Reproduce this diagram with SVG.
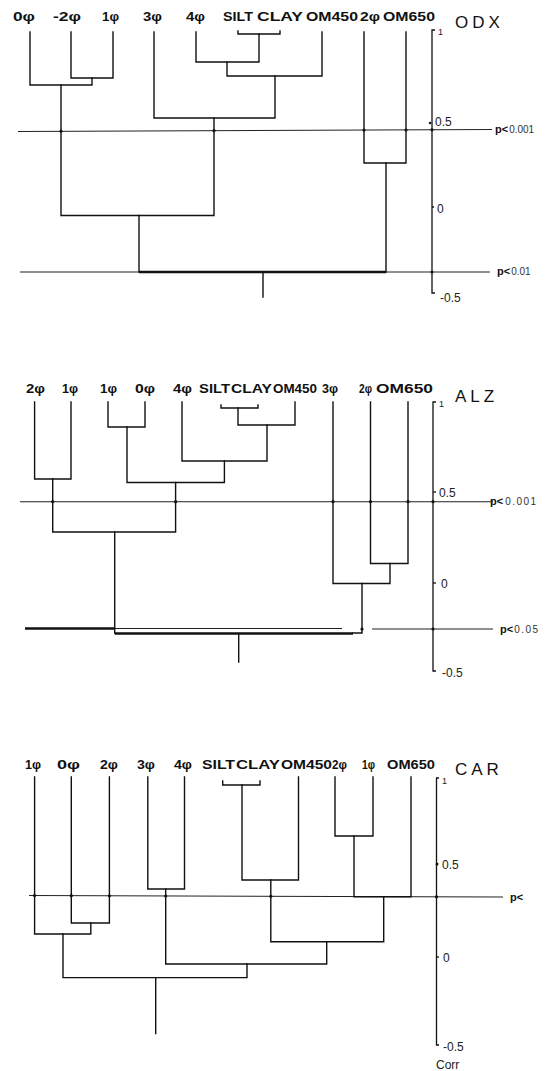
<svg xmlns="http://www.w3.org/2000/svg" width="559" height="1071" viewBox="0 0 559 1071">
<style>
.t{fill:none;stroke:#111;stroke-width:1.4;stroke-linecap:square}
.tk{fill:none;stroke:#111;stroke-width:2.4}
.pl{fill:none;stroke:#222;stroke-width:1.1}
.ax{fill:none;stroke:#111;stroke-width:1.3}
.d{fill:#111}
.lab{font-family:"Liberation Sans",Arial,sans-serif;font-weight:bold;font-size:13.5px;fill:#111}
.ttl{font-family:"Liberation Sans",Arial,sans-serif;font-size:17px;letter-spacing:4px;fill:#111}
.tick{font-family:"Liberation Sans",Arial,sans-serif;font-size:12px;fill:#222}
.one{font-family:"Liberation Sans",Arial,sans-serif;font-size:9px;fill:#222}
.pb{font-family:"Liberation Sans",Arial,sans-serif;font-weight:bold;font-size:11px;fill:#111}
.pn{font-family:"Liberation Sans",Arial,sans-serif;font-weight:normal;font-size:10px;fill:#333}
</style>
<rect width="559" height="1071" fill="#fff"/>

<!-- ===== ODX panel ===== -->
<g id="odx">
  <g id="odx-title"><text class="ttl" x="455" y="28">ODX</text></g>
  <g id="odx-l0"><text class="lab" x="13" y="21" textLength="22" lengthAdjust="spacingAndGlyphs">0φ</text></g>
  <g id="odx-lm2"><text class="lab" x="53" y="21" textLength="28" lengthAdjust="spacingAndGlyphs">-2φ</text></g>
  <g id="odx-l1"><text class="lab" x="102" y="21" textLength="17" lengthAdjust="spacingAndGlyphs">1φ</text></g>
  <g id="odx-l3"><text class="lab" x="143" y="21" textLength="19" lengthAdjust="spacingAndGlyphs">3φ</text></g>
  <g id="odx-l4"><text class="lab" x="186" y="21" textLength="19" lengthAdjust="spacingAndGlyphs">4φ</text></g>
  <g id="odx-silt"><text class="lab" x="223" y="21" textLength="30" lengthAdjust="spacingAndGlyphs">SILT</text></g>
  <g id="odx-clay"><text class="lab" x="257" y="21" textLength="46" lengthAdjust="spacingAndGlyphs">CLAY</text></g>
  <g id="odx-om450"><text class="lab" x="306" y="21" textLength="52" lengthAdjust="spacingAndGlyphs">OM450</text></g>
  <g id="odx-l2"><text class="lab" x="360" y="21" textLength="20" lengthAdjust="spacingAndGlyphs">2φ</text></g>
  <g id="odx-om650"><text class="lab" x="383" y="21" textLength="52" lengthAdjust="spacingAndGlyphs">OM650</text></g>
  <g id="odx-axis">
    <path class="ax" d="M435,30 H432 V293 H435"/>
    <text class="one" x="438" y="35">1</text>
    <circle class="d" cx="430" cy="123" r="1.2"/>
    <text class="tick" x="435" y="126">0.5</text>
    <path class="ax" d="M432,207 H434"/>
    <text class="tick" x="437" y="213">0</text>
    <text class="tick" x="440" y="302">-0.5</text>
  </g>
  <g id="odx-sig">
    <text x="495" y="133"><tspan class="pb">p&lt;</tspan><tspan class="pn" dx="1">0.001</tspan></text>
    <text x="497" y="275"><tspan class="pb">p&lt;</tspan><tspan class="pn" dx="1">0.01</tspan></text>
  </g>
</g>
<g id="odx-connectors">
  <path class="pl" d="M18,131.5 L492,129.5"/>
  <path class="pl" d="M20,272 H490"/>
  <path class="t" d="M71,32 V78 H113 V32"/>
  <path class="t" d="M30,32 V85 H92 V78"/>
  <path class="t" d="M238,31 V34 H280 V31"/>
  <path class="t" d="M196,32 V62 H259 V34"/>
  <path class="t" d="M227,62 V76 H322 V32"/>
  <path class="t" d="M154,32 V118 H275 V76"/>
  <path class="t" d="M61,85 V215.5 H214 V118"/>
  <path class="t" d="M364,32 V163 H406 V32"/>
  <path class="t" d="M139,215.5 V272 M386,272 V163"/>
  <path class="tk" d="M139,272 H386"/>
  <path class="t" d="M263,272 V297"/>
  <circle class="d" cx="61" cy="131.2" r="1.6"/>
  <circle class="d" cx="214" cy="130.7" r="1.6"/>
  <circle class="d" cx="364" cy="130.1" r="1.6"/>
  <circle class="d" cx="406" cy="130" r="1.6"/>
  <circle class="d" cx="432" cy="129.8" r="1.6"/>
  <circle class="d" cx="432" cy="272" r="1.6"/>
</g>

<!-- ===== ALZ panel ===== -->
<g id="alz">
  <g id="alz-title"><text class="ttl" x="455" y="402">ALZ</text></g>
  <g id="alz-l2a"><text class="lab" x="26" y="393" textLength="19" lengthAdjust="spacingAndGlyphs">2φ</text></g>
  <g id="alz-l1a"><text class="lab" x="62" y="393" textLength="16" lengthAdjust="spacingAndGlyphs">1φ</text></g>
  <g id="alz-l1b"><text class="lab" x="100" y="393" textLength="17" lengthAdjust="spacingAndGlyphs">1φ</text></g>
  <g id="alz-l0"><text class="lab" x="135" y="393" textLength="20" lengthAdjust="spacingAndGlyphs">0φ</text></g>
  <g id="alz-l4"><text class="lab" x="173" y="393" textLength="19" lengthAdjust="spacingAndGlyphs">4φ</text></g>
  <g id="alz-silt"><text class="lab" x="199" y="393" textLength="31" lengthAdjust="spacingAndGlyphs">SILT</text></g>
  <g id="alz-clay"><text class="lab" x="231" y="393" textLength="41" lengthAdjust="spacingAndGlyphs">CLAY</text></g>
  <g id="alz-om450"><text class="lab" x="273" y="393" textLength="44" lengthAdjust="spacingAndGlyphs">OM450</text></g>
  <g id="alz-l3"><text class="lab" x="322" y="393" textLength="16" lengthAdjust="spacingAndGlyphs">3φ</text></g>
  <g id="alz-l2b"><text class="lab" x="359" y="393" textLength="13" lengthAdjust="spacingAndGlyphs">2φ</text></g>
  <g id="alz-om650"><text class="lab" x="376" y="393" textLength="57" lengthAdjust="spacingAndGlyphs">OM650</text></g>
  <g id="alz-axis">
    <path class="ax" d="M436,402 H433 V671 H436"/>
    <text class="one" x="439" y="407">1</text>
    <path class="ax" d="M433,492 H436"/>
    <text class="tick" x="439" y="497">0.5</text>
    <path class="ax" d="M433,583 H436"/>
    <text class="tick" x="441" y="588">0</text>
    <text class="tick" x="442" y="677">-0.5</text>
  </g>
  <g id="alz-sig">
    <text x="490" y="505"><tspan class="pb">p&lt;</tspan><tspan class="pn" dx="2" letter-spacing="1.5">0.001</tspan></text>
    <text x="500" y="633"><tspan class="pb">p&lt;</tspan><tspan class="pn" dx="1" letter-spacing="1.5">0.05</tspan></text>
  </g>
</g>
<g id="alz-connectors">
  <path class="pl" d="M20,501.7 H493"/>
  <path class="pl" d="M25,628.5 H342 M372,629 H493"/>
  <path class="tk" d="M25,628.5 H115"/>
  <path class="t" d="M34.6,402 V479 H71 V402"/>
  <path class="t" d="M108,402 V427 H145 V402"/>
  <path class="t" d="M221,405 V408 H258 V405"/>
  <path class="t" d="M238,408 V425 H295 V402"/>
  <path class="t" d="M182,402 V461 H267 V425"/>
  <path class="t" d="M127,427 V482.5 H224.4 V461"/>
  <path class="t" d="M52.7,479 V532 H175.6 V482.5"/>
  <path class="t" d="M370.5,402 V563.5 H408 V402"/>
  <path class="t" d="M333,402 V583.5 H390 V563.5"/>
  <path class="t" d="M114.7,532 V633 M362,583.5 V633 H353"/>
  <path class="tk" d="M114.7,633.5 H353"/>
  <path class="t" d="M238.7,634 V662"/>
  <circle class="d" cx="52.7" cy="501.7" r="1.6"/>
  <circle class="d" cx="175.6" cy="501.7" r="1.6"/>
  <circle class="d" cx="333" cy="501.7" r="1.6"/>
  <circle class="d" cx="370.5" cy="501.7" r="1.6"/>
  <circle class="d" cx="408" cy="501.7" r="1.6"/>
  <circle class="d" cx="433" cy="501.7" r="1.6"/>
  <circle class="d" cx="362" cy="629" r="1.6"/>
  <circle class="d" cx="433" cy="629" r="1.6"/>
</g>

<!-- ===== CAR panel ===== -->
<g id="car">
  <g id="car-title"><text class="ttl" x="455" y="775">CAR</text></g>
  <g id="car-l1a"><text class="lab" x="25" y="769" textLength="16" lengthAdjust="spacingAndGlyphs">1φ</text></g>
  <g id="car-l0"><text class="lab" x="57" y="769" textLength="23" lengthAdjust="spacingAndGlyphs">0φ</text></g>
  <g id="car-l2a"><text class="lab" x="100" y="769" textLength="18" lengthAdjust="spacingAndGlyphs">2φ</text></g>
  <g id="car-l3"><text class="lab" x="137" y="769" textLength="18" lengthAdjust="spacingAndGlyphs">3φ</text></g>
  <g id="car-l4"><text class="lab" x="174" y="769" textLength="18" lengthAdjust="spacingAndGlyphs">4φ</text></g>
  <g id="car-silt"><text class="lab" x="202" y="769" textLength="33" lengthAdjust="spacingAndGlyphs">SILT</text></g>
  <g id="car-clay"><text class="lab" x="236" y="769" textLength="44" lengthAdjust="spacingAndGlyphs">CLAY</text></g>
  <g id="car-om450"><text class="lab" x="281" y="769" textLength="51" lengthAdjust="spacingAndGlyphs">OM450</text></g>
  <g id="car-l2b"><text class="lab" x="332" y="769" textLength="15" lengthAdjust="spacingAndGlyphs">2φ</text></g>
  <g id="car-l1b"><text class="lab" x="362" y="769" textLength="13" lengthAdjust="spacingAndGlyphs">1φ</text></g>
  <g id="car-om650"><text class="lab" x="387" y="769" textLength="48" lengthAdjust="spacingAndGlyphs">OM650</text></g>
  <g id="car-axis">
    <path class="ax" d="M439,778 H436.5 V1045 H439"/>
    <text class="one" x="442" y="784">1</text>
    <circle class="d" cx="437" cy="864" r="1.5"/>
    <text class="tick" x="442" y="869">0.5</text>
    <path class="ax" d="M436.5,957 H439"/>
    <text class="tick" x="443" y="962">0</text>
    <text class="tick" x="443" y="1051">-0.5</text>
    <text class="tick" x="436" y="1069">Corr</text>
  </g>
  <g id="car-sig">
    <text x="510" y="901"><tspan class="pb">p&lt;</tspan></text>
  </g>
</g>
<g id="car-connectors">
  <path class="pl" d="M29,895.5 L503,897"/>
  <path class="t" d="M71.3,777 V923 H109.4 V777"/>
  <path class="t" d="M34.6,777 V934 H90.8 V923"/>
  <path class="t" d="M147.8,777 V889 H184.5 V777"/>
  <path class="t" d="M222.7,781 V785 H260 V781"/>
  <path class="t" d="M242,785 V880 H298.5 V777"/>
  <path class="t" d="M335,777 V836 H373 V777"/>
  <path class="t" d="M354,836 V896.7 H411 V777"/>
  <path class="t" d="M270.8,880 V941.7 H383.7 V896.7"/>
  <path class="t" d="M165.7,889 V964 H326.7 V941.7"/>
  <path class="t" d="M63,934 V977.6 H247 V964"/>
  <path class="t" d="M155.7,977.6 V1033.6"/>
  <circle class="d" cx="34.6" cy="895.6" r="1.6"/>
  <circle class="d" cx="71.3" cy="895.7" r="1.6"/>
  <circle class="d" cx="109.4" cy="895.8" r="1.6"/>
  <circle class="d" cx="165.7" cy="896" r="1.6"/>
  <circle class="d" cx="270.8" cy="896.3" r="1.6"/>
  <circle class="d" cx="436.5" cy="896.8" r="1.6"/>
</g>
</svg>
